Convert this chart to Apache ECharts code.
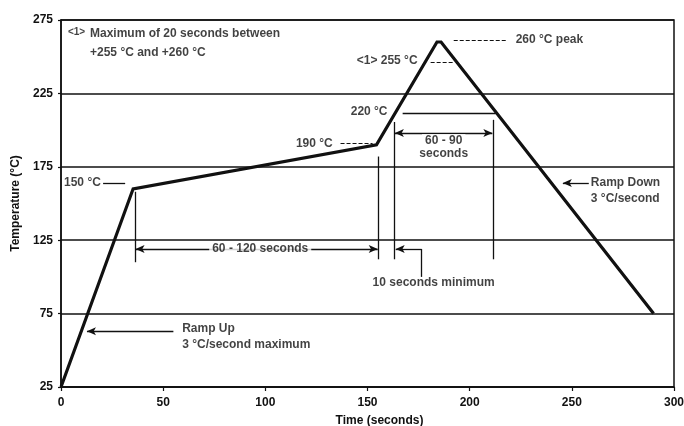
<!DOCTYPE html>
<html><head><meta charset="utf-8">
<script src="https://cdn.jsdelivr.net/npm/echarts@6/dist/echarts.min.js"></script>
<style>html,body{margin:0;padding:0;background:#fff}#c{width:684px;height:426px}</style>
</head><body><div id="c"></div>
<script>
// Reflow profile (time in seconds, temperature in °C)
const timeSeconds = [0, 35.3, 154.4, 184, 186, 290];
const temperatureC = [25, 160, 190, 260, 260, 75];
const xTickLabels = ['0', '50', '100', '150', '200', '250', '300'];
const yTickLabels = ['25', '75', '125', '175', '225', '275'];

// Annotation segments in data coordinates: [t1, T1, t2, T2]
const solidGuides = [
  [20.6, 164, 31.4, 164],
  [36.3, 158, 36.3, 110],
  [155.2, 182, 155.2, 112],
  [163.2, 205.5, 163.2, 112],
  [211.3, 207, 211.3, 112],
  [167.2, 211.6, 212.7, 211.6],
  [176.5, 119, 176.5, 100]
];
const dashedGuides = [
  [136.8, 191, 152.5, 191],
  [180.9, 246.4, 191.7, 246.4],
  [192.2, 261.4, 218.6, 261.4]
];
const singleArrows = [
  [176.5, 119, 163.8, 119],
  [258.3, 164, 245.6, 164],
  [55, 63, 12.7, 63]
];
const doubleArrows = [
  [36.5, 119, 155, 119],
  [163.4, 198, 211.1, 198]
];
// Notes: [t, T, text]
const notesRightAligned = [
  [19.5, 164, '150 °C'],
  [133, 191, '190 °C'],
  [159.8, 212.5, '220 °C'],
  [174.5, 247.5, '<1> 255 °C']
];
const notesLeftAligned = [
  [14.2, 265.5, 'Maximum of 20 seconds between'],
  [14.2, 252.5, '+255 °C and +260 °C'],
  [222.5, 261.4, '260 °C peak'],
  [259.3, 164, 'Ramp Down'],
  [259.3, 153, '3 °C/second'],
  [59.3, 65, 'Ramp Up'],
  [59.3, 53.5, '3 °C/second maximum'],
  [152.5, 96, '10 seconds minimum']
];
const notesSmall = [
  [3.4, 266.5, '<1>']
];
const notesCentered = [
  [97.5, 119, '60 - 120 seconds'],
  [187.3, 192.6, '60 - 90'],
  [187.3, 184, 'seconds']
];

const FONT = "'Liberation Sans',Arial,sans-serif";
const INK = '#111';

function seg(s, sym, style) {
  return [
    { coord: [s[0], s[1]], symbol: sym[0] },
    { coord: [s[2], s[3]], symbol: sym[1], lineStyle: style }
  ];
}
const markLineData = [].concat(
  solidGuides.map(s => seg(s, ['none', 'none'], { type: 'solid', width: 1.3 })),
  dashedGuides.map(s => seg(s, ['none', 'none'], { type: [4, 2], width: 1.2 })),
  singleArrows.map(s => seg(s, ['none', 'arrow'], { type: 'solid', width: 1.3 })),
  doubleArrows.map(s => seg(s, ['arrow', 'arrow'], { type: 'solid', width: 1.3 }))
);

function noteSeries(list, position, extra) {
  return {
    type: 'scatter', symbolSize: 0, z: 6, silent: true,
    data: list.map(n => ({ value: [n[0], n[1]], name: n[2] })),
    label: Object.assign({
      show: true, position: position, distance: 0,
      formatter: p => p.name,
      fontFamily: FONT, fontSize: 12, fontWeight: 'bold', color: INK
    }, extra || {})
  };
}

const chart = echarts.init(document.getElementById('c'), null, { renderer: 'canvas' });
chart.setOption({
  animation: false,
  backgroundColor: '#fff',
  grid: { left: 61, right: 10, top: 20, bottom: 39, outerBoundsMode: 'none', containLabel: false,
    show: true, borderColor: INK, borderWidth: 1.5, backgroundColor: 'transparent' },
  xAxis: {
    type: 'value', min: 0, max: 300, interval: 50,
    name: 'Time (seconds)', nameLocation: 'middle', nameGap: 28,
    nameTextStyle: { fontFamily: FONT, fontSize: 12, fontWeight: 'bold', color: INK, padding: [0, 0, 0, 24] },
    axisLine: { show: true, lineStyle: { color: INK, width: 1.5 } },
    axisTick: { show: true, length: 4, lineStyle: { color: INK, width: 1.2 } },
    axisLabel: { margin: 10, fontFamily: FONT, fontSize: 12, fontWeight: 'bold', color: INK,
      formatter: v => xTickLabels[Math.round(v / 50)] },
    splitLine: { show: false }
  },
  yAxis: {
    type: 'value', min: 25, max: 275, interval: 50,
    name: 'Temperature (°C)', nameLocation: 'middle', nameGap: 37,
    nameTextStyle: { fontFamily: FONT, fontSize: 12, fontWeight: 'bold', color: INK },
    axisLine: { show: true, lineStyle: { color: INK, width: 1.5 } },
    axisTick: { show: true, length: 3, lineStyle: { color: INK, width: 1.2 } },
    axisLabel: { margin: 8, fontFamily: FONT, fontSize: 12, fontWeight: 'bold', color: INK,
      formatter: v => yTickLabels[Math.round((v - 25) / 50)] },
    splitLine: { show: true, lineStyle: { color: INK, width: 1.6 } }
  },
  series: [
    {
      type: 'line', z: 4, symbol: 'none',
      data: timeSeconds.map((t, i) => [t, temperatureC[i]]),
      lineStyle: { color: INK, width: 3.2, join: 'miter' }
    },
    {
      type: 'line', z: 3, data: [], symbol: 'none',
      markLine: {
        silent: true, animation: false,
        symbolSize: [6, 9],
        label: { show: false },
        lineStyle: { color: INK, width: 1.3, type: 'solid' },
        emphasis: { disabled: true },
        data: markLineData
      }
    },
    noteSeries(notesRightAligned, 'left'),
    noteSeries(notesLeftAligned, 'right'),
    noteSeries(notesSmall, 'right', { fontSize: 10 }),
    noteSeries(notesCentered, 'inside', { backgroundColor: '#fff', padding: [0, 3], lineHeight: 14 })
  ]
});
</script>
</body></html>
